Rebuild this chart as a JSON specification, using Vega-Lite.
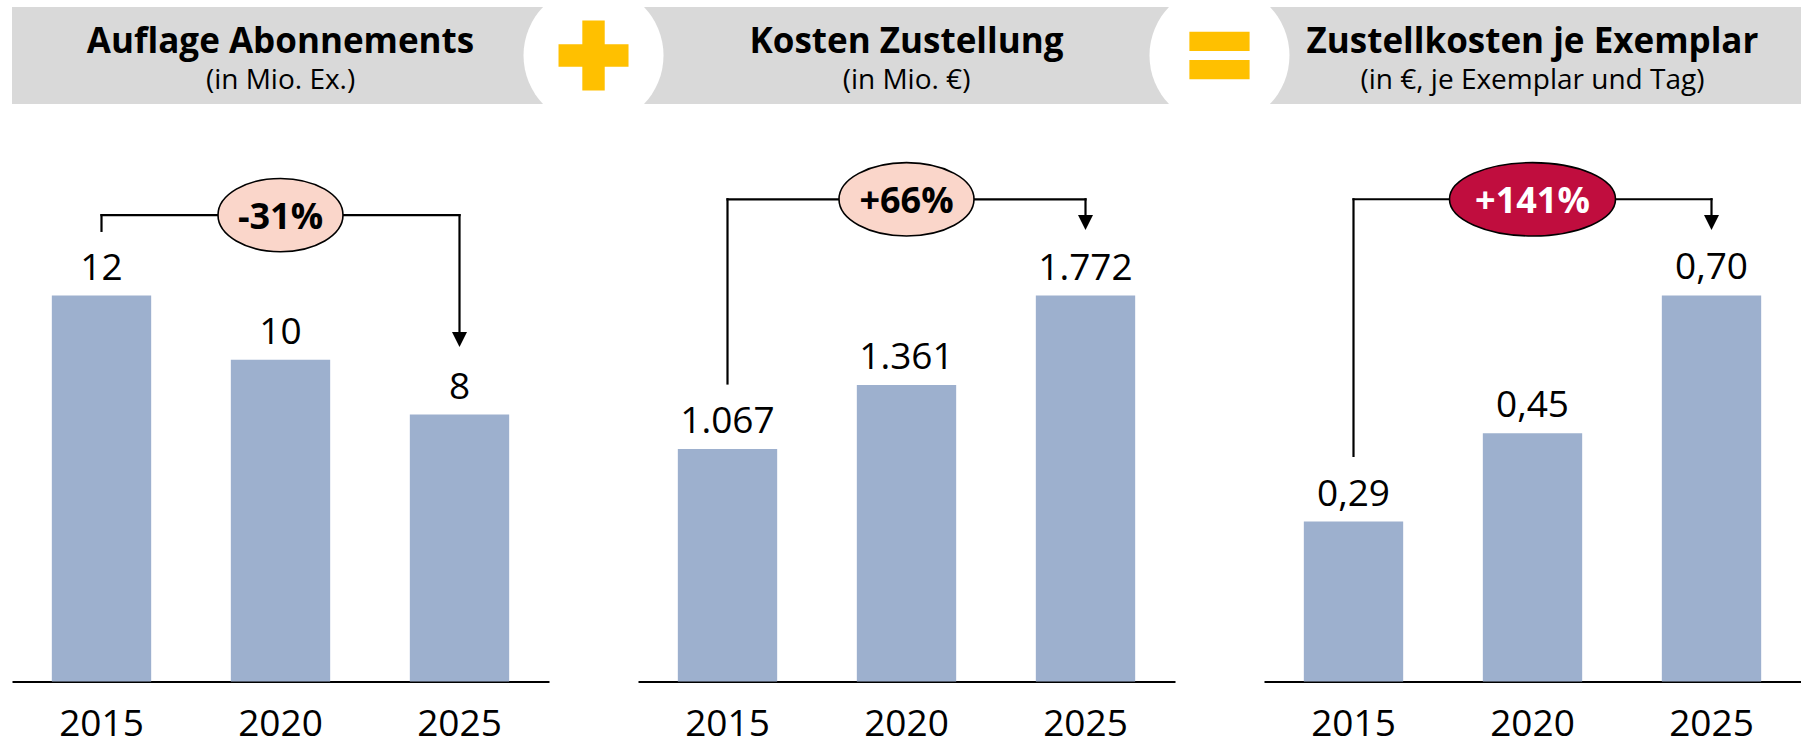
{
  "$schema": "https://vega.github.io/schema/vega-lite/v6.json",
  "padding": {"left": 12, "top": 7, "right": 0, "bottom": 0},
  "background": "white",
  "bounds": "flush",
  "spacing": 37.5,
  "config": {
    "view": {"stroke": null},
    "font": "Open Sans",
    "text": {"font": "Open Sans", "color": "black"}
  },
  "datasets": {
    "header": [
      {"kind": "title", "pos": 0, "main": "Auflage Abonnements", "sub": "(in Mio. Ex.)"},
      {"kind": "title", "pos": 1, "main": "Kosten Zustellung", "sub": "(in Mio. €)"},
      {"kind": "title", "pos": 2, "main": "Zustellkosten je Exemplar", "sub": "(in €, je Exemplar und Tag)"},
      {"kind": "symbol", "pos": 0.5, "sym": "plus"},
      {"kind": "symbol", "pos": 1.5, "sym": "equals"}
    ],
    "bars": [
      {"panel": 1, "year": "2015", "value": 12, "label": "12"},
      {"panel": 1, "year": "2020", "value": 10, "label": "10"},
      {"panel": 1, "year": "2025", "value": 8.3, "label": "8"},
      {"panel": 2, "year": "2015", "value": 1067, "label": "1.067"},
      {"panel": 2, "year": "2020", "value": 1361, "label": "1.361"},
      {"panel": 2, "year": "2025", "value": 1772, "label": "1.772"},
      {"panel": 3, "year": "2015", "value": 0.29, "label": "0,29"},
      {"panel": 3, "year": "2020", "value": 0.45, "label": "0,45"},
      {"panel": 3, "year": "2025", "value": 0.70, "label": "0,70"}
    ],
    "brackets": [
      {"panel": 1, "year": "2015", "year2": "2015", "y": 14.01, "y2": 14.50},
      {"panel": 1, "year": "2015", "year2": "2025", "y": 14.50, "y2": 14.50},
      {"panel": 1, "year": "2025", "year2": "2025", "y": 14.50, "y2": 10.63},
      {"panel": 2, "year": "2015", "year2": "2015", "y": 1368, "y2": 2213.7},
      {"panel": 2, "year": "2015", "year2": "2025", "y": 2213.7, "y2": 2213.7},
      {"panel": 2, "year": "2025", "year2": "2025", "y": 2213.7, "y2": 2107},
      {"panel": 3, "year": "2015", "year2": "2015", "y": 0.4089, "y2": 0.8745},
      {"panel": 3, "year": "2015", "year2": "2025", "y": 0.8745, "y2": 0.8745},
      {"panel": 3, "year": "2025", "year2": "2025", "y": 0.8745, "y2": 0.8324}
    ],
    "badges": [
      {"panel": 1, "year": "2020", "level": 14.50, "text": "-31%"},
      {"panel": 2, "year": "2020", "level": 2213.7, "text": "+66%"},
      {"panel": 3, "year": "2020", "level": 0.8745, "text": "+141%"}
    ],
    "arrows": [
      {"panel": 1, "year": "2025", "level": 10.63},
      {"panel": 2, "year": "2025", "level": 2107},
      {"panel": 3, "year": "2025", "level": 0.8324}
    ]
  },
  "vconcat": [
    {
      "width": 1789,
      "height": 97,
      "view": {"fill": "#D9D9D9", "stroke": null},
      "data": {"name": "header"},
      "encoding": {
        "x": {"field": "pos", "type": "quantitative", "scale": {"domain": [-0.429, 2.429], "nice": false, "zero": false}, "axis": null}
      },
      "layer": [
        {
          "transform": [{"filter": "datum.kind == 'symbol'"}],
          "mark": {"type": "point", "shape": "circle", "size": 19600, "filled": true, "fill": "white", "opacity": 1, "strokeWidth": 0, "clip": true}
        },
        {
          "transform": [{"filter": "datum.kind == 'symbol'"}],
          "mark": {"type": "point", "filled": true, "size": 4900, "fill": "#FFC000", "opacity": 1, "strokeWidth": 0},
          "encoding": {
            "shape": {"field": "sym", "type": "nominal", "legend": null,
              "scale": {"domain": ["plus", "equals"], "range": [
                "M -0.32 -1 L 0.32 -1 L 0.32 -0.32 L 1 -0.32 L 1 0.32 L 0.32 0.32 L 0.32 1 L -0.32 1 L -0.32 0.32 L -1 0.32 L -1 -0.32 L -0.32 -0.32 Z",
                "M -0.86 -0.68 L 0.86 -0.68 L 0.86 -0.13 L -0.86 -0.13 Z M -0.86 0.13 L 0.86 0.13 L 0.86 0.68 L -0.86 0.68 Z"
              ]}}
          }
        },
        {
          "transform": [{"filter": "datum.kind == 'title'"}],
          "mark": {"type": "text", "font": "Open Sans", "fontWeight": "bold", "fontSize": 35, "baseline": "alphabetic", "dy": -2.5, "color": "black"},
          "encoding": {"text": {"field": "main"}}
        },
        {
          "transform": [{"filter": "datum.kind == 'title'"}],
          "mark": {"type": "text", "font": "Open Sans", "fontSize": 28, "baseline": "alphabetic", "dy": 33.8, "color": "black"},
          "encoding": {"text": {"field": "sub"}}
        }
      ]
    },
    {
      "hconcat": [
        {
          "width": 537, "height": 540,
          "encoding": {
            "x": {"field": "year", "type": "nominal", "scale": {"domain": ["2015", "2020", "2025"], "paddingInner": 0.445, "paddingOuter": 0.2225},
              "axis": {"title": null, "domainColor": "black", "domainWidth": 2, "ticks": false, "grid": false, "labelAngle": 0, "labelFont": "Open Sans", "labelFontSize": 37, "labelColor": "black", "labelPadding": 25}}
          },
          "layer": [
            {"data": {"name": "bars"}, "transform": [{"filter": "datum.panel == 1"}],
             "mark": {"type": "bar", "color": "#9DB0CE"},
             "encoding": {"y": {"field": "value", "type": "quantitative", "scale": {"domain": [0, 16.788], "nice": false}, "axis": null}}},
            {"data": {"name": "bars"}, "transform": [{"filter": "datum.panel == 1"}],
             "mark": {"type": "text", "fontSize": 37, "baseline": "alphabetic", "dy": -16, "color": "black"},
             "encoding": {"y": {"field": "value", "type": "quantitative", "scale": {"domain": [0, 16.788], "nice": false}, "axis": null}, "text": {"field": "label"}}},
            {"data": {"name": "brackets"}, "transform": [{"filter": "datum.panel == 1"}],
             "mark": {"type": "rule", "color": "black", "strokeWidth": 2.2, "strokeCap": "square"},
             "encoding": {"x2": {"field": "year2"}, "y": {"field": "y", "type": "quantitative", "scale": {"domain": [0, 16.788], "nice": false}, "axis": null}, "y2": {"field": "y2"}}},
            {"data": {"name": "arrows"}, "transform": [{"filter": "datum.panel == 1"}],
             "mark": {"type": "point", "shape": "M -1 -1 L 1 -1 L 0 1 Z", "size": 225, "filled": true, "fill": "black", "opacity": 1, "strokeWidth": 0},
             "encoding": {"y": {"field": "level", "type": "quantitative", "scale": {"domain": [0, 16.788], "nice": false}, "axis": null}}},
            {"data": {"name": "badges"}, "transform": [{"filter": "datum.panel == 1"}],
             "mark": {"type": "point", "shape": "M -1 0 C -1 -0.3239 -0.5523 -0.5864 0 -0.5864 C 0.5523 -0.5864 1 -0.3239 1 0 C 1 0.3239 0.5523 0.5864 0 0.5864 C -0.5523 0.5864 -1 0.3239 -1 0 Z", "size": 15625, "filled": true, "fill": "#FAD6CA", "stroke": "black", "strokeWidth": 1.6, "opacity": 1},
             "encoding": {"y": {"field": "level", "type": "quantitative", "scale": {"domain": [0, 16.788], "nice": false}, "axis": null}}},
            {"data": {"name": "badges"}, "transform": [{"filter": "datum.panel == 1"}],
             "mark": {"type": "text", "fontSize": 36, "fontWeight": "bold", "baseline": "middle", "dy": 3, "color": "black"},
             "encoding": {"y": {"field": "level", "type": "quantitative", "scale": {"domain": [0, 16.788], "nice": false}, "axis": null}, "text": {"field": "text"}}}
          ]
        },
        {
          "width": 537, "height": 540,
          "encoding": {
            "x": {"field": "year", "type": "nominal", "scale": {"domain": ["2015", "2020", "2025"], "paddingInner": 0.445, "paddingOuter": 0.2225},
              "axis": {"title": null, "domainColor": "black", "domainWidth": 2, "ticks": false, "grid": false, "labelAngle": 0, "labelFont": "Open Sans", "labelFontSize": 37, "labelColor": "black", "labelPadding": 25}}
          },
          "layer": [
            {"data": {"name": "bars"}, "transform": [{"filter": "datum.panel == 2"}],
             "mark": {"type": "bar", "color": "#9DB0CE"},
             "encoding": {"y": {"field": "value", "type": "quantitative", "scale": {"domain": [0, 2478.97], "nice": false}, "axis": null}}},
            {"data": {"name": "bars"}, "transform": [{"filter": "datum.panel == 2"}],
             "mark": {"type": "text", "fontSize": 37, "baseline": "alphabetic", "dy": -16, "color": "black"},
             "encoding": {"y": {"field": "value", "type": "quantitative", "scale": {"domain": [0, 2478.97], "nice": false}, "axis": null}, "text": {"field": "label"}}},
            {"data": {"name": "brackets"}, "transform": [{"filter": "datum.panel == 2"}],
             "mark": {"type": "rule", "color": "black", "strokeWidth": 2.2, "strokeCap": "square"},
             "encoding": {"x2": {"field": "year2"}, "y": {"field": "y", "type": "quantitative", "scale": {"domain": [0, 2478.97], "nice": false}, "axis": null}, "y2": {"field": "y2"}}},
            {"data": {"name": "arrows"}, "transform": [{"filter": "datum.panel == 2"}],
             "mark": {"type": "point", "shape": "M -1 -1 L 1 -1 L 0 1 Z", "size": 225, "filled": true, "fill": "black", "opacity": 1, "strokeWidth": 0},
             "encoding": {"y": {"field": "level", "type": "quantitative", "scale": {"domain": [0, 2478.97], "nice": false}, "axis": null}}},
            {"data": {"name": "badges"}, "transform": [{"filter": "datum.panel == 2"}],
             "mark": {"type": "point", "shape": "M -1 0 C -1 -0.2999 -0.5523 -0.543 0 -0.543 C 0.5523 -0.543 1 -0.2999 1 0 C 1 0.2999 0.5523 0.543 0 0.543 C -0.5523 0.543 -1 0.2999 -1 0 Z", "size": 18225, "filled": true, "fill": "#FAD6CA", "stroke": "black", "strokeWidth": 1.6, "opacity": 1},
             "encoding": {"y": {"field": "level", "type": "quantitative", "scale": {"domain": [0, 2478.97], "nice": false}, "axis": null}}},
            {"data": {"name": "badges"}, "transform": [{"filter": "datum.panel == 2"}],
             "mark": {"type": "text", "fontSize": 36, "fontWeight": "bold", "baseline": "middle", "dy": 3, "color": "black"},
             "encoding": {"y": {"field": "level", "type": "quantitative", "scale": {"domain": [0, 2478.97], "nice": false}, "axis": null}, "text": {"field": "text"}}}
          ]
        },
        {
          "width": 537, "height": 540,
          "encoding": {
            "x": {"field": "year", "type": "nominal", "scale": {"domain": ["2015", "2020", "2025"], "paddingInner": 0.445, "paddingOuter": 0.2225},
              "axis": {"title": null, "domainColor": "black", "domainWidth": 2, "ticks": false, "grid": false, "labelAngle": 0, "labelFont": "Open Sans", "labelFontSize": 37, "labelColor": "black", "labelPadding": 25}}
          },
          "layer": [
            {"data": {"name": "bars"}, "transform": [{"filter": "datum.panel == 3"}],
             "mark": {"type": "bar", "color": "#9DB0CE"},
             "encoding": {"y": {"field": "value", "type": "quantitative", "scale": {"domain": [0, 0.97927], "nice": false}, "axis": null}}},
            {"data": {"name": "bars"}, "transform": [{"filter": "datum.panel == 3"}],
             "mark": {"type": "text", "fontSize": 37, "baseline": "alphabetic", "dy": -16, "color": "black"},
             "encoding": {"y": {"field": "value", "type": "quantitative", "scale": {"domain": [0, 0.97927], "nice": false}, "axis": null}, "text": {"field": "label"}}},
            {"data": {"name": "brackets"}, "transform": [{"filter": "datum.panel == 3"}],
             "mark": {"type": "rule", "color": "black", "strokeWidth": 2.2, "strokeCap": "square"},
             "encoding": {"x2": {"field": "year2"}, "y": {"field": "y", "type": "quantitative", "scale": {"domain": [0, 0.97927], "nice": false}, "axis": null}, "y2": {"field": "y2"}}},
            {"data": {"name": "arrows"}, "transform": [{"filter": "datum.panel == 3"}],
             "mark": {"type": "point", "shape": "M -1 -1 L 1 -1 L 0 1 Z", "size": 225, "filled": true, "fill": "black", "opacity": 1, "strokeWidth": 0},
             "encoding": {"y": {"field": "level", "type": "quantitative", "scale": {"domain": [0, 0.97927], "nice": false}, "axis": null}}},
            {"data": {"name": "badges"}, "transform": [{"filter": "datum.panel == 3"}],
             "mark": {"type": "point", "shape": "M -1 0 C -1 -0.2439 -0.5523 -0.4416 0 -0.4416 C 0.5523 -0.4416 1 -0.2439 1 0 C 1 0.2439 0.5523 0.4416 0 0.4416 C -0.5523 0.4416 -1 0.2439 -1 0 Z", "size": 27556, "filled": true, "fill": "#C00D3E", "stroke": "black", "strokeWidth": 1.6, "opacity": 1},
             "encoding": {"y": {"field": "level", "type": "quantitative", "scale": {"domain": [0, 0.97927], "nice": false}, "axis": null}}},
            {"data": {"name": "badges"}, "transform": [{"filter": "datum.panel == 3"}],
             "mark": {"type": "text", "fontSize": 36, "fontWeight": "bold", "baseline": "middle", "dy": 3, "color": "white"},
             "encoding": {"y": {"field": "level", "type": "quantitative", "scale": {"domain": [0, 0.97927], "nice": false}, "axis": null}, "text": {"field": "text"}}}
          ]
        }
      ],
      "spacing": 89,
      "bounds": "flush"
    }
  ]
}
